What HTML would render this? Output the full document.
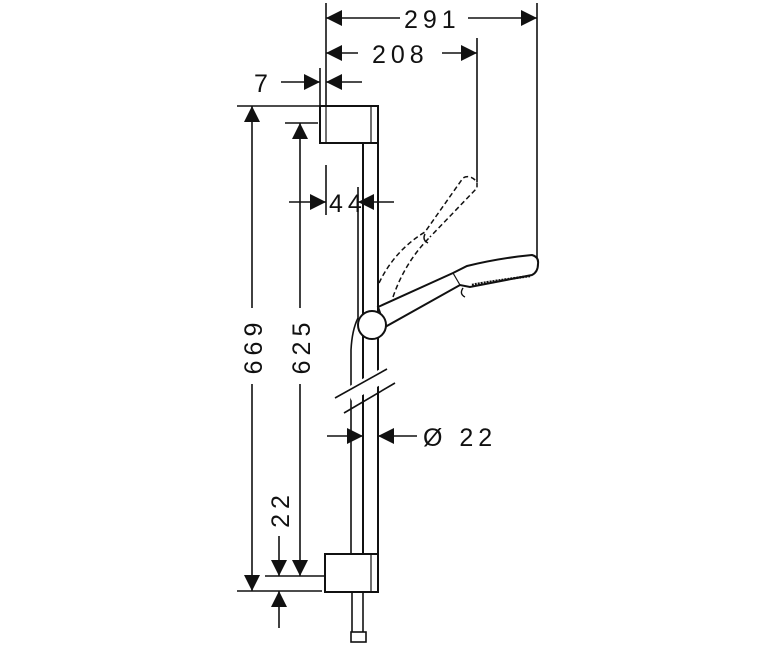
<!DOCTYPE html>
<html><head><style>
html,body{margin:0;padding:0;background:#fff;}
svg{display:block;}
text{font-family:"Liberation Sans",sans-serif;font-size:25px;fill:#111;letter-spacing:5px;}
</style></head><body>
<svg width="780" height="650" viewBox="0 0 780 650" xmlns="http://www.w3.org/2000/svg">
<defs>
<marker id="a" viewBox="0 0 10 10" refX="10" refY="5" markerWidth="16" markerHeight="16" markerUnits="userSpaceOnUse" orient="auto"><path d="M0,0L10,5L0,10z" fill="#111"/></marker>
</defs>
<g stroke="#111" stroke-width="1.6" fill="none">
<line x1="326" y1="3" x2="326" y2="106"/>
<line x1="537" y1="3" x2="537" y2="262"/>
<line x1="477" y1="38" x2="477" y2="182"/>
<line x1="320" y1="68" x2="320" y2="106"/>
<line x1="237" y1="106" x2="320" y2="106"/>
<line x1="285" y1="123" x2="318" y2="123"/>
<line x1="265" y1="576" x2="325" y2="576"/>
<line x1="237" y1="591" x2="322" y2="591"/>
<line x1="326" y1="165" x2="326" y2="215"/>
<line x1="400" y1="18" x2="326" y2="18" marker-end="url(#a)"/>
<line x1="468" y1="18" x2="537" y2="18" marker-end="url(#a)"/>
<line x1="358" y1="53" x2="326" y2="53" marker-end="url(#a)"/>
<line x1="442" y1="53" x2="477" y2="53" marker-end="url(#a)"/>
<line x1="281" y1="82" x2="320" y2="82" marker-end="url(#a)"/>
<line x1="362" y1="82" x2="326" y2="82" marker-end="url(#a)"/>
<line x1="289" y1="202" x2="326" y2="202" marker-end="url(#a)"/>
<line x1="394" y1="202" x2="358" y2="202" marker-end="url(#a)"/>
<line x1="252" y1="308" x2="252" y2="106" marker-end="url(#a)"/>
<line x1="252" y1="384" x2="252" y2="591" marker-end="url(#a)"/>
<line x1="300" y1="308" x2="300" y2="123" marker-end="url(#a)"/>
<line x1="300" y1="384" x2="300" y2="576" marker-end="url(#a)"/>
<line x1="279" y1="536" x2="279" y2="576" marker-end="url(#a)"/>
<line x1="279" y1="628" x2="279" y2="591" marker-end="url(#a)"/>
<line x1="327" y1="436" x2="363" y2="436" marker-end="url(#a)"/>
<line x1="417" y1="436" x2="378" y2="436" marker-end="url(#a)"/>
</g>
<g stroke="#111" stroke-width="2" fill="#fff">
<rect x="320" y="106" width="58" height="37"/>
<line x1="326" y1="106" x2="326" y2="143" stroke-width="1.2"/>
<line x1="371" y1="106" x2="371" y2="143" stroke-width="1.2"/>
<line x1="363" y1="143" x2="363" y2="554"/>
<line x1="378" y1="143" x2="378" y2="554"/>
<path d="M358,187 L358,318 Q352,330 351,350 L351,554" fill="none" stroke-width="1.6"/>
<rect x="325" y="554" width="53" height="38"/>
<line x1="371" y1="554" x2="371" y2="592" stroke-width="1.2"/>
<line x1="352" y1="592" x2="352" y2="632" stroke-width="1.6"/>
<line x1="363" y1="592" x2="363" y2="632" stroke-width="1.6"/>
<rect x="351" y="632" width="15" height="10" stroke-width="1.6"/>
<path d="M378,307 L453,273 L467,266 Q500,258 532,255 Q539,257 538,264 Q538,272 532,275 L470,287 L460,285 L385,327 Z"/>
<path d="M472,285 Q480,283 530,276" fill="none" stroke-width="2.5" stroke-dasharray="2 1"/>
<line x1="453" y1="273" x2="460" y2="285" stroke-width="1.2"/>
<circle cx="372" cy="325" r="14"/>
<path d="M463,288 q-4,6 2,9" fill="none" stroke-width="1.4"/>
</g>
<g stroke="#111" stroke-width="1.5" fill="none" stroke-dasharray="5 3">
<path d="M379,283 Q395,250 425,232 L463,178 Q470,174 477,182 L477,188 L430,237"/>
<path d="M393,297 Q405,262 430,237"/>
<path d="M425,234 q-3,6 3,9" stroke-dasharray="none"/>
</g>
<g stroke="none">
<rect x="346" y="378" width="40" height="14" fill="#fff" transform="rotate(-29 366 385)"/>
</g>
<g stroke="#111" stroke-width="1.6">
<line x1="335" y1="398" x2="387" y2="369"/>
<line x1="344" y1="413" x2="395" y2="383"/>
</g>
<text x="404" y="28">291</text>
<text x="372" y="63">208</text>
<text x="254" y="92">7</text>
<text x="329" y="212" letter-spacing="9">44</text>
<text x="423" y="446">Ø 22</text>
<text transform="translate(262,346) rotate(-90)" text-anchor="middle">669</text>
<text transform="translate(310,346) rotate(-90)" text-anchor="middle">625</text>
<text transform="translate(289,509) rotate(-90)" text-anchor="middle">22</text>
</svg>
</body></html>
